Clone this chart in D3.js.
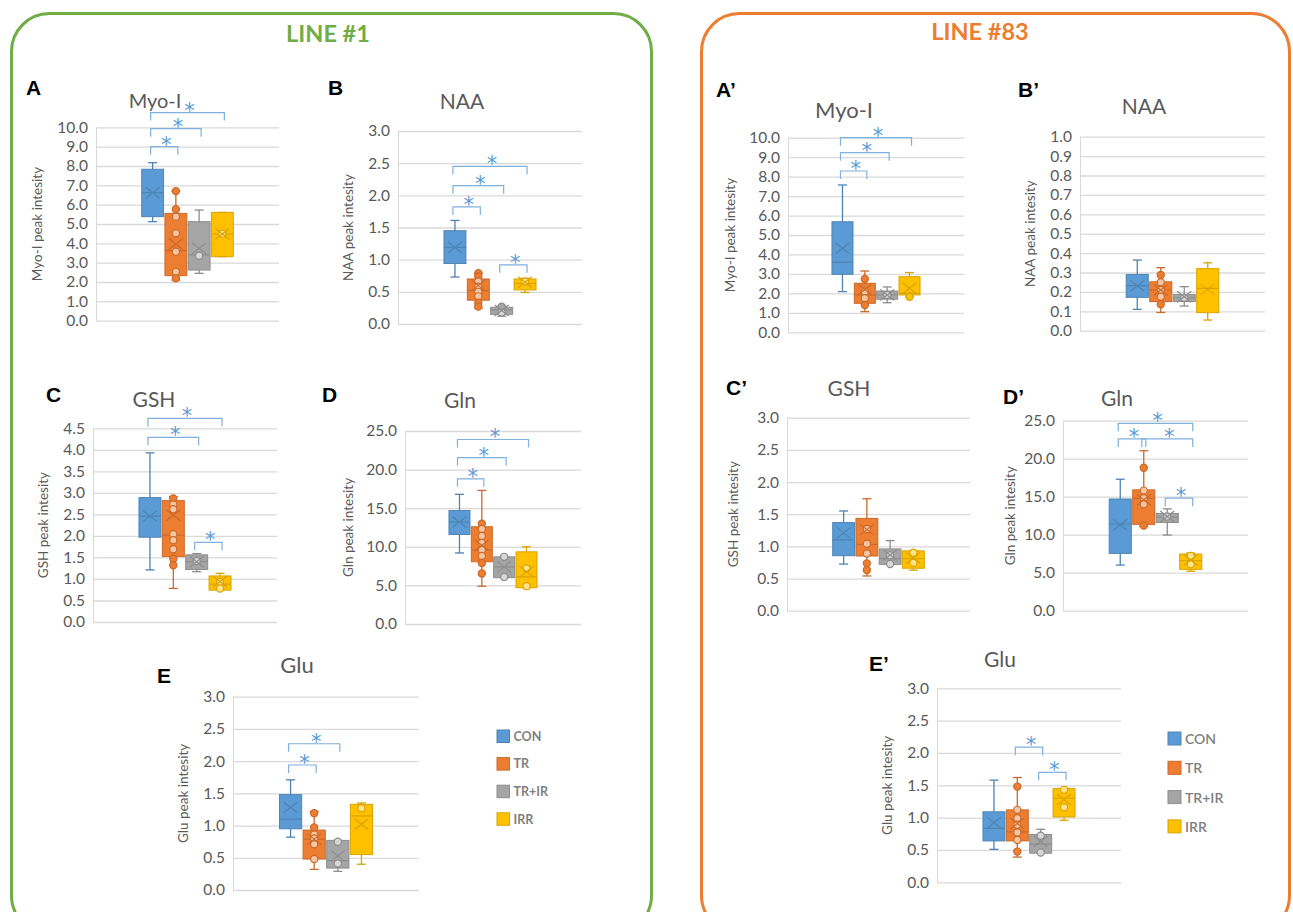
<!DOCTYPE html>
<html><head><meta charset="utf-8">
<script src="https://cdn.jsdelivr.net/npm/d3@7"></script>
<style>body{margin:0;background:#fff}svg{display:block}</style>
</head><body><svg id="c" width="1293" height="912"></svg>
<script>
// ---------------- DATA ----------------
const groups = ["CON", "TR", "TR+IR", "IRR"];
const colors = ["#5b9bd5", "#ed7d31", "#a5a5a5", "#ffc000"];

// tick labels
const ticks10 = [0,1,2,3,4,5,6,7,8,9,10];
const ticks3 = [0,0.5,1,1.5,2,2.5,3];
const ticks45 = [0,0.5,1,1.5,2,2.5,3,3.5,4,4.5];
const ticks25 = [0,5,10,15,20,25];
const ticks1 = [0,0.1,0.2,0.3,0.4,0.5,0.6,0.7,0.8,0.9,1];

// box stats per group: [min, q1, median, q3, max, mean]
// LINE #1
const statsA = [[5.12,5.38,6.62,7.83,8.17,6.62],[2.10,2.33,3.62,5.55,6.70,3.97],[2.45,2.62,3.40,5.12,5.72,3.74],[3.31,3.31,4.48,5.60,5.60,4.48]];
const pointsA = [[],[6.70,5.76,5.38,4.52,3.57,2.53,2.19],[3.36],[4.50]];
const bracketsA = [[0,1,9.0],[0,2,9.93],[0,3,10.76]];

const statsB = [[0.73,0.94,1.19,1.45,1.61,1.19],[0.25,0.37,0.52,0.70,0.79,0.60],[0.12,0.15,0.22,0.26,0.28,0.21],[0.49,0.53,0.63,0.70,0.71,0.65]];
const pointsB = [[],[0.79,0.74,0.66,0.58,0.50,0.43,0.33,0.27],[0.27,0.18],[0.66]];
const bracketsB = [[0,1,1.82],[0,2,2.15],[0,3,2.45],[2,3,0.92]];

const statsC = [[1.21,1.97,2.46,2.89,3.93,2.46],[0.78,1.52,2.02,2.82,2.91,2.48],[1.17,1.22,1.40,1.56,1.59,1.40],[0.74,0.74,0.88,1.07,1.13,0.94]];
const pointsC = [[],[2.87,2.73,2.62,2.04,1.90,1.69,1.47,1.32],[1.42],[0.93,0.78]];
const bracketsC = [[0,2,4.29],[0,3,4.73],[2,3,1.85]];

const statsD = [[9.2,11.6,13.2,14.7,16.8,13.2],[4.9,8.06,9.57,12.6,17.3,10.2],[6.0,6.0,7.4,8.7,8.7,7.4],[4.7,4.7,6.1,9.35,10.0,6.77]];
const pointsD = [[],[13.0,12.3,11.4,10.5,9.6,8.8,7.9,6.55],[8.7,6.1],[7.2,4.9]];
const bracketsD = [[0,1,18.8],[0,2,21.55],[0,3,23.9]];

const statsE = [[0.82,0.95,1.10,1.48,1.71,1.28],[0.32,0.48,0.79,0.93,1.22,0.79],[0.29,0.34,0.455,0.77,0.77,0.53],[0.40,0.55,1.15,1.33,1.35,1.02]];
const pointsE = [[],[1.19,0.97,0.86,0.80,0.71,0.48],[0.75,0.41],[1.27]];
const bracketsE = [[0,1,1.94],[0,2,2.27]];

// LINE #83
const statsA2 = [[2.09,2.98,3.60,5.68,7.57,4.32],[1.06,1.49,1.92,2.52,3.15,2.20],[1.52,1.70,1.92,2.12,2.33,1.92],[1.83,1.92,2.0,2.86,3.07,2.26]];
const pointsA2 = [[],[2.74,2.09,1.75,1.40],[1.92],[1.83]];
const bracketsA2 = [[0,1,8.29],[0,2,9.23],[0,3,10.0]];

const statsB2 = [[0.11,0.172,0.232,0.29,0.364,0.232],[0.094,0.15,0.21,0.252,0.325,0.21],[0.127,0.15,0.17,0.187,0.227,0.175],[0.055,0.093,0.218,0.32,0.35,0.213]];
const pointsB2 = [[],[0.287,0.25,0.21,0.175,0.136],[0.17],[]];
const bracketsB2 = [];

const statsC2 = [[0.725,0.855,1.10,1.37,1.55,1.21],[0.54,0.85,1.03,1.435,1.74,1.26],[0.72,0.72,0.81,0.96,1.09,0.865],[0.63,0.66,0.81,0.93,0.93,0.82]];
const pointsC2 = [[],[1.27,1.04,0.89,0.736,0.632],[0.86,0.725],[0.90,0.746]];
const bracketsC2 = [];

const statsD2 = [[6.0,7.54,11.4,14.7,17.3,11.3],[11.1,11.36,14.8,15.9,21.05,14.6],[9.96,11.6,12.3,12.8,13.4,12.4],[5.2,5.44,6.58,7.46,7.6,6.67]];
const pointsD2 = [[],[18.8,15.8,14.8,14.0,11.2],[12.4],[7.2,6.1]];
const bracketsD2 = [[0,1,22.6],[0,3,24.65],[1,3,22.6],[2,3,14.8]];

const statsE2 = [[0.51,0.64,0.835,1.09,1.58,0.92],[0.39,0.64,0.78,1.12,1.62,0.91],[0.45,0.45,0.59,0.74,0.82,0.63],[0.96,1.01,1.30,1.45,1.45,1.28]];
const pointsE2 = [[],[1.48,1.12,0.99,0.89,0.77,0.655,0.475],[0.72,0.46],[1.43,1.16]];
const bracketsE2 = [[1,2,2.09],[2,3,1.70]];

// ---------------- LAYOUT ----------------
const panels = [
  {letter:"A",  lx:26,  ly:95,  title:"Myo-I", tx:155,  ty:108, ts:20, yt:"Myo-I peak intesity", yto:59, L:96,  R:279,  T:127.3, B:320.7, ticks:ticks10, stats:statsA,  pts:pointsA,  br:bracketsA},
  {letter:"B",  lx:328, ly:95,  title:"NAA",   tx:462,  ty:109, ts:21, yt:"NAA peak intesity",   yto:50, L:398, R:582,  T:131,   B:324,   ticks:ticks3,  stats:statsB,  pts:pointsB,  br:bracketsB},
  {letter:"C",  lx:46,  ly:402, title:"GSH",   tx:154,  ty:407, ts:21, yt:"GSH peak intesity",   yto:50, L:93,  R:277,  T:428.3, B:622,   ticks:ticks45, stats:statsC,  pts:pointsC,  br:bracketsC},
  {letter:"D",  lx:322, ly:402, title:"Gln",   tx:460,  ty:408, ts:21, yt:"Gln peak intesity",   yto:57, L:405, R:581,  T:431,   B:624,   ticks:ticks25, stats:statsD,  pts:pointsD,  br:bracketsD},
  {letter:"E",  lx:157, ly:683, title:"Glu",   tx:297,  ty:673, ts:22, yt:"Glu peak intesity",   yto:50, L:233, R:419,  T:696.7, B:890,   ticks:ticks3,  stats:statsE,  pts:pointsE,  br:bracketsE},
  {letter:"A\u2019", lx:716, ly:97,  title:"Myo-I", tx:844,  ty:118, ts:22, yt:"Myo-I peak intesity", yto:58, L:788, R:964,  T:137.7, B:332.3, ticks:ticks10, stats:statsA2, pts:pointsA2, br:bracketsA2},
  {letter:"B\u2019", lx:1018,ly:97,  title:"NAA",   tx:1144, ty:114, ts:21, yt:"NAA peak intesity",   yto:50, L:1080,R:1265, T:136.7, B:330.7, ticks:ticks1,  stats:statsB2, pts:pointsB2, br:bracketsB2},
  {letter:"C\u2019", lx:726, ly:395, title:"GSH",   tx:849,  ty:396, ts:21, yt:"GSH peak intesity",   yto:54, L:787, R:970,  T:417.7, B:610.7, ticks:ticks3,  stats:statsC2, pts:pointsC2, br:bracketsC2},
  {letter:"D\u2019", lx:1003,ly:404, title:"Gln",   tx:1117, ty:406, ts:21, yt:"Gln peak intesity",   yto:53, L:1063,R:1248, T:420.7, B:610.7, ticks:ticks25, stats:statsD2, pts:pointsD2, br:bracketsD2},
  {letter:"E\u2019", lx:869, ly:671, title:"Glu",   tx:1000, ty:667, ts:21, yt:"Glu peak intesity",   yto:50, L:937, R:1121, T:688.3, B:882.3, ticks:ticks3,  stats:statsE2, pts:pointsE2, br:bracketsE2}
];

const svg = d3.select("#c");
const FONT = "Lato, 'Open Sans', sans-serif";

// frames
const frames = [
  {x:11.5, y:13.5, w:640, h:920, c:"#70ad47", label:"LINE #1", lx:328, ly:42},
  {x:701.5, y:13.5, w:588, h:920, c:"#ed7d31", label:"LINE #83", lx:980, ly:40}
];
frames.forEach(f => {
  svg.append("rect").attr("x", f.x).attr("y", f.y).attr("width", f.w).attr("height", f.h)
    .attr("rx", 38).attr("fill", "none").attr("stroke", f.c).attr("stroke-width", 3);
  svg.append("text").attr("x", f.lx).attr("y", f.ly).attr("text-anchor", "middle")
    .attr("font-family", FONT).attr("font-weight", 700).attr("font-size", 23.5)
    .attr("fill", f.c).text(f.label);
});

const darker = c => d3.color(c).darker(0.45).formatHex();

panels.forEach(p => {
  const g = svg.append("g");
  const max = p.ticks[p.ticks.length - 1];
  const y = d3.scaleLinear().domain([0, max]).range([p.B, p.T]);
  const w = p.R - p.L;
  const step = w * 0.127;
  const cx = (p.L + p.R) / 2;
  const x = d3.scalePoint().domain(groups).range([cx - 2 * step, cx + 2 * step]).padding(0.5);
  const bw = step * 0.94;

  // axis + gridlines
  const ax = d3.axisLeft(y).tickValues(p.ticks).tickSize(-w).tickPadding(8).tickFormat(d3.format(".1f"));
  const axg = g.append("g").attr("transform", `translate(${p.L},0)`).call(ax);
  axg.select(".domain").attr("stroke", "#d9d9d9").attr("d", `M0.5,${p.B}V${p.T}`);
  axg.selectAll(".tick line").attr("stroke", "#d9d9d9").attr("stroke-width", 1.3);
  axg.selectAll(".tick text").attr("fill", "#595959").attr("font-family", FONT).attr("font-size", 15.5);

  // y title
  g.append("text").attr("transform", `translate(${p.L - p.yto},${(p.T + p.B) / 2}) rotate(-90)`)
    .attr("text-anchor", "middle").attr("dominant-baseline", "central")
    .attr("font-family", FONT).attr("font-size", 13.5).attr("fill", "#595959").text(p.yt);

  // chart title
  g.append("text").attr("x", p.tx).attr("y", p.ty).attr("text-anchor", "middle")
    .attr("font-family", FONT).attr("font-size", p.ts).attr("fill", "#595959").text(p.title);

  // letter
  g.append("text").attr("x", p.lx).attr("y", p.ly)
    .attr("font-family", "'Liberation Sans', Arial, sans-serif").attr("font-weight", 700)
    .attr("font-size", 21).attr("fill", "#000").text(p.letter);

  // boxes
  p.stats.forEach((s, i) => {
    const [mn, q1, md, q3, mx, mean] = s;
    const c = colors[i], dk = darker(c);
    const xc = x(groups[i]);
    const bg = g.append("g");
    bg.append("line").attr("x1", xc).attr("x2", xc).attr("y1", y(mx)).attr("y2", y(mn))
      .attr("stroke", dk).attr("stroke-width", 1.3);
    [mn, mx].forEach(v => bg.append("line").attr("x1", xc - 4.5).attr("x2", xc + 4.5)
      .attr("y1", y(v)).attr("y2", y(v)).attr("stroke", dk).attr("stroke-width", 1.3));
    bg.append("rect").attr("x", xc - bw / 2).attr("width", bw)
      .attr("y", y(q3)).attr("height", Math.max(1, y(q1) - y(q3)))
      .attr("fill", c).attr("stroke", dk).attr("stroke-width", 1);
    bg.append("line").attr("x1", xc - bw / 2).attr("x2", xc + bw / 2)
      .attr("y1", y(md)).attr("y2", y(md)).attr("stroke", dk).attr("stroke-width", 1.2);
    p.pts[i].forEach(v => {
      const inside = v >= q1 && v <= q3;
      bg.append("circle").attr("cx", xc).attr("cy", y(v)).attr("r", 3.6)
        .attr("fill", inside ? d3.interpolateRgb(c, "#fff")(0.55) : c)
        .attr("stroke", dk).attr("stroke-width", 1.2);
    });
    const ym = y(mean);
    bg.append("path").attr("d", `M${xc - 7},${ym - 5.5}L${xc + 7},${ym + 5.5}M${xc - 7},${ym + 5.5}L${xc + 7},${ym - 5.5}`)
      .attr("stroke", dk).attr("stroke-width", 1.2).attr("fill", "none");
  });

  // significance brackets
  p.br.forEach(([a, b, v]) => {
    const x1 = x(groups[a]) - 2, x2 = x(groups[b]) + 2, yy = y(v);
    g.append("path").attr("d", `M${x1},${yy + 8}V${yy}H${x2}V${yy + 8}`)
      .attr("fill", "none").attr("stroke", "#7fb0de").attr("stroke-width", 1.2);
    g.append("text").attr("x", (x1 + x2) / 2 + 2).attr("y", yy + 5).attr("text-anchor", "middle")
      .attr("font-family", "'DejaVu Sans', sans-serif").attr("font-size", 21)
      .attr("fill", "#5b9bd5").text("*");
  });
});

// legends
const legends = [
  {x:497, y0:730, dy:27.6, size:12.5, fs:12.5, fw:700},
  {x:1168, y0:732, dy:29.3, size:13, fs:14, fw:600}
];
legends.forEach(L => {
  groups.forEach((gname, i) => {
    const yy = L.y0 + i * L.dy;
    svg.append("rect").attr("x", L.x).attr("y", yy).attr("width", L.size).attr("height", L.size)
      .attr("fill", colors[i]).attr("stroke", darker(colors[i])).attr("stroke-width", 1);
    svg.append("text").attr("x", L.x + L.size + 4).attr("y", yy + L.size / 2)
      .attr("dominant-baseline", "central").attr("font-family", FONT)
      .attr("font-size", L.fs).attr("font-weight", L.fw).attr("fill", "#7f7f7f").text(gname);
  });
});
</script>
</body></html>
